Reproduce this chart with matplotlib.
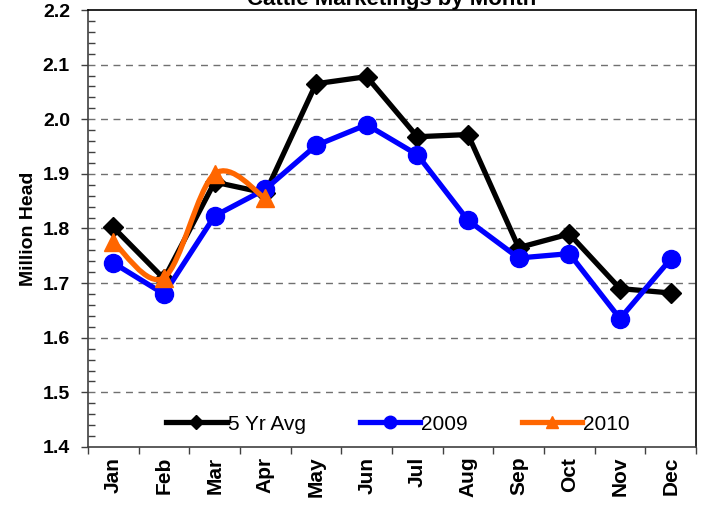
import numpy as np
import matplotlib
matplotlib.use('Agg')
import matplotlib.pyplot as plt
from matplotlib.path import Path
from matplotlib.patches import PathPatch
from matplotlib.lines import Line2D
from matplotlib.ticker import MultipleLocator, FixedLocator

plt.rcParams['font.family'] = ['Liberation Sans', 'DejaVu Sans']

# data
months = ['Jan', 'Feb', 'Mar', 'Apr', 'May', 'Jun',
          'Jul', 'Aug', 'Sep', 'Oct', 'Nov', 'Dec']
avg5 = [1.802, 1.708, 1.885, 1.865, 2.065, 2.078,
        1.968, 1.972, 1.765, 1.790, 1.690, 1.682]
y2009 = [1.737, 1.680, 1.823, 1.872, 1.952, 1.990,
         1.935, 1.815, 1.746, 1.754, 1.635, 1.744]
y2010 = [1.775, 1.710, 1.900, 1.855]

c_avg = 'black'
c_09 = '#0000FF'
c_10 = '#FF6600'


# excel style smoothed line (bezier through the points)
def smooth_path(xs, ys):
    pts = np.column_stack([xs, ys]).astype(float)
    n = len(pts)
    verts = [pts[0]]
    codes = [Path.MOVETO]
    for i in range(n - 1):
        p0 = pts[max(i - 1, 0)]
        p1 = pts[i]
        p2 = pts[i + 1]
        p3 = pts[min(i + 2, n - 1)]
        verts += [p1 + (p2 - p0) / 6.0, p2 - (p3 - p1) / 6.0, p2]
        codes += [Path.CURVE4] * 3
    return Path(verts, codes)


fig = plt.figure(figsize=(7.04, 5.12), dpi=100)
ax = fig.add_axes([88 / 704, 1 - 447 / 512, (696 - 88) / 704, (447 - 10) / 512])

x = np.arange(len(months))

ax.plot(x, avg5, color=c_avg, lw=3.8, marker='D', ms=10, zorder=3,
        label='5 Yr Avg', solid_joinstyle='miter')
ax.plot(x, y2009, color=c_09, lw=3.8, marker='o', ms=13, zorder=4,
        label='2009')
x10 = np.arange(len(y2010))
ax.add_patch(PathPatch(smooth_path(x10, y2010), facecolor='none',
                       edgecolor=c_10, lw=3.8, zorder=5))
ax.plot(x10, y2010, color=c_10, ls='none', marker='^', ms=13, zorder=6)

ax.set_xlim(-0.5, 11.5)
ax.set_ylim(1.4, 2.2)

ax.yaxis.set_major_locator(MultipleLocator(0.1))
ax.yaxis.set_minor_locator(MultipleLocator(0.02))
ax.yaxis.set_major_formatter(matplotlib.ticker.FormatStrFormatter('%.1f'))
ax.tick_params(axis='y', which='major', direction='out', length=5,
               width=1, labelsize=14, pad=8, color='#404040')
ax.tick_params(axis='y', which='minor', direction='in', length=5,
               width=1, color='#404040')
for lab in ax.get_yticklabels():
    lab.set_fontweight('bold')

ax.xaxis.set_major_locator(FixedLocator(x))
ax.set_xticklabels(months, rotation=90, fontsize=15, fontweight='bold')
ax.xaxis.set_minor_locator(FixedLocator(np.arange(-0.5, 12, 1)))
ax.tick_params(axis='x', which='major', length=0, pad=7)
ax.tick_params(axis='x', which='minor', direction='out', length=5,
               width=1, color='#404040')

for v in np.arange(1.5, 2.15, 0.1):
    ax.axhline(v, color='#707070', lw=1, ls=(0, (5, 4)), zorder=1)

for s in ax.spines.values():
    s.set_linewidth(1.2)
    s.set_color('black')
ax.spines['left'].set_color('#404040')
ax.spines['bottom'].set_color('#404040')

ax.set_ylabel('Million Head', fontsize=14, fontweight='bold', labelpad=4)

handles = [
    Line2D([], [], color=c_avg, lw=3.8, marker='D', ms=7),
    Line2D([], [], color=c_09, lw=3.8, marker='o', ms=9),
    Line2D([], [], color=c_10, lw=3.8, marker='^', ms=9),
]
ax.legend(handles, ['5 Yr Avg', '2009', '2010'], ncol=3, loc='center',
          bbox_to_anchor=(0.51, 0.052), frameon=False, fontsize=15,
          handlelength=2.9, handletextpad=0.05, columnspacing=2.6,
          numpoints=1)

fig.text(392 / 704, 1 - 5 / 512, 'Cattle Marketings by Month',
         ha='center', va='baseline', fontsize=16, fontweight='bold')

fig.savefig('out.png', dpi=100)
